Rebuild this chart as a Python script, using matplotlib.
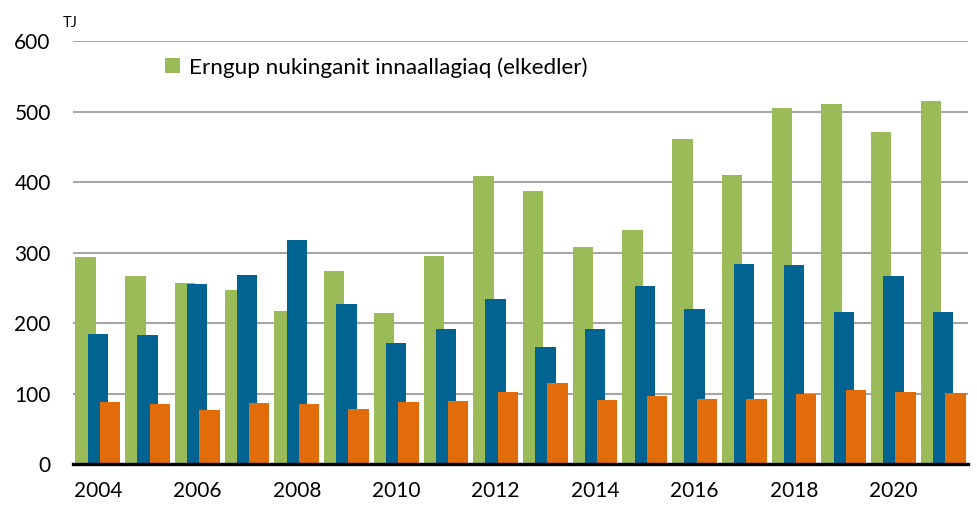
import matplotlib
matplotlib.use("Agg")
import matplotlib.pyplot as plt
import numpy as np

# --- data (TJ) ---
years = list(range(2004, 2022))
green_vals = [294, 267, 257, 248, 217, 274, 215, 296, 409, 388, 309, 333,
              462, 410, 505, 511, 472, 516]
blue_vals = [185, 183, 256, 269, 318, 228, 172, 192, 234, 166, 192, 253,
             220, 284, 283, 216, 267, 216]
orange_vals = [88, 86, 77, 87, 86, 79, 89, 90, 102, 116, 91, 97,
               93, 93, 100, 105, 102, 101]
tick_years = [2004, 2006, 2008, 2010, 2012, 2014, 2016, 2018, 2020]
legend_label = "Erngup nukinganit innaallagiaq (elkedler)"

GREEN = "#9BBB59"
BLUE = "#006391"
ORANGE = "#E36C0A"

plt.rcParams['font.family'] = ['Lato', 'DejaVu Sans']

fig = plt.figure(figsize=(9.78, 5.07), dpi=100)
ax = fig.add_axes([0.0746, 0.0842, 0.9152, 0.834])

x = np.arange(len(years))
w = 0.41
off = 0.245
ax.bar(x - off, green_vals, w, color=GREEN, label=legend_label, zorder=2)
ax.bar(x, blue_vals, w, color=BLUE, zorder=3)
ax.bar(x + off, orange_vals, w, color=ORANGE, zorder=4)

ax.set_xlim(-0.5, len(years) - 0.5)
ax.set_ylim(0, 600)
ax.set_yticks(range(0, 601, 100))
ax.yaxis.grid(True, color="#A6A6A6", linewidth=1.5, zorder=0)
ax.set_axisbelow(True)
ax.axhline(0, color="black", linewidth=2.4, zorder=6, clip_on=False)

ax.set_xticks([years.index(y) for y in tick_years])
ax.set_xticklabels([str(y) for y in tick_years])
ax.tick_params(axis='both', length=0, labelsize=15)
ax.tick_params(axis='y', pad=16)
ax.tick_params(axis='x', pad=12)

for s in ax.spines.values():
    s.set_visible(False)

ax.legend(loc='upper left', bbox_to_anchor=(0.103, 0.963), frameon=False,
          fontsize=16.2, handlelength=0.65, handleheight=0.65, handletextpad=0.4,
          borderpad=0, borderaxespad=0)

fig.text(63 / 978, 0.94, "TJ", fontsize=10.5, va='bottom', ha='left')

fig.savefig("out.png", dpi=100)
